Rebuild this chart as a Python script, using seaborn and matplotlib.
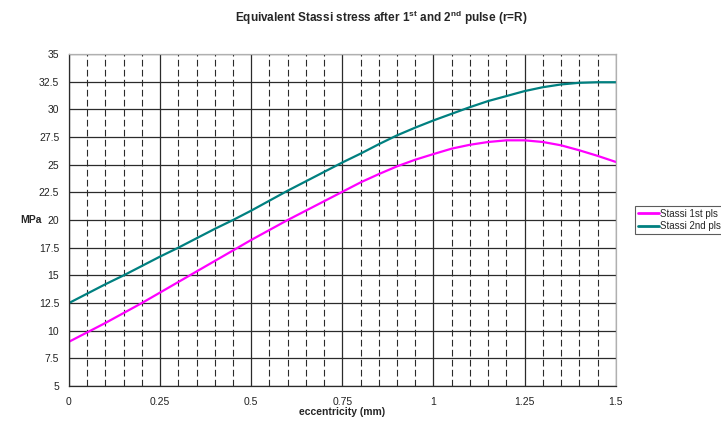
import numpy as np
import pandas as pd
import matplotlib
matplotlib.use("Agg")
import matplotlib.pyplot as plt
from matplotlib.ticker import MultipleLocator
import seaborn as sns

# Eccentricity (mm) sampled every 0.05
eccentricity = [0.00, 0.05, 0.10, 0.15, 0.20, 0.25, 0.30, 0.35, 0.40, 0.45,
                0.50, 0.55, 0.60, 0.65, 0.70, 0.75, 0.80, 0.85, 0.90, 0.95,
                1.00, 1.05, 1.10, 1.15, 1.20, 1.25, 1.30, 1.35, 1.40, 1.45, 1.50]

# Equivalent Stassi stress (MPa) after the first pulse
stassi_1st = [9.00, 9.85, 10.70, 11.60, 12.50, 13.45, 14.40, 15.35, 16.30, 17.25,
              18.20, 19.10, 20.00, 20.85, 21.70, 22.55, 23.40, 24.15, 24.85, 25.45,
              25.96, 26.45, 26.80, 27.05, 27.20, 27.20, 27.05, 26.75, 26.30, 25.80, 25.25]

# Equivalent Stassi stress (MPa) after the second pulse
stassi_2nd = [12.50, 13.35, 14.20, 15.00, 15.85, 16.70, 17.50, 18.35, 19.20, 20.00,
              20.85, 21.75, 22.65, 23.50, 24.35, 25.20, 26.00, 26.85, 27.65, 28.35,
              29.00, 29.60, 30.20, 30.75, 31.20, 31.65, 32.00, 32.25, 32.40, 32.45, 32.45]

series_names = ["Stassi 1st pls", "Stassi 2nd pls"]
series_colors = ["#FF00FF", "#008080"]

y_ticks = [5, 7.5, 10, 12.5, 15, 17.5, 20, 22.5, 25, 27.5, 30, 32.5, 35]
y_tick_labels = ["5", "7.5", "10", "12.5", "15", "17.5", "20", "22.5", "25",
                 "27.5", "30", "32.5", "35"]
x_ticks = [0, 0.25, 0.5, 0.75, 1, 1.25, 1.5]
x_tick_labels = ["0", "0.25", "0.5", "0.75", "1", "1.25", "1.5"]

df = pd.DataFrame({
    "eccentricity": eccentricity * 2,
    "stress": stassi_1st + stassi_2nd,
    "series": [series_names[0]] * len(eccentricity) + [series_names[1]] * len(eccentricity),
})

sns.set_style("white")
plt.rcParams["font.family"] = ["Liberation Sans", "DejaVu Sans"]
plt.rcParams["mathtext.fontset"] = "custom"
plt.rcParams["mathtext.rm"] = "Liberation Sans"
plt.rcParams["mathtext.bf"] = "Liberation Sans:bold"

fig = plt.figure(figsize=(7.21, 4.21), dpi=100)
ax = fig.add_axes([0.0957, 0.0831, 0.7583, 0.7886])

# grid: solid majors, dashed minors on x
ax.set_axisbelow(True)
ax.xaxis.set_minor_locator(MultipleLocator(0.05))
ax.grid(which="major", axis="both", color="#2b2b2b", linewidth=0.9, linestyle="-")
ax.grid(which="minor", axis="x", color="#2b2b2b", linewidth=0.8, linestyle=(0, (6, 3)))

sns.lineplot(data=df, x="eccentricity", y="stress", hue="series",
             palette=series_colors, linewidth=1.6, ax=ax, legend=False)

ax.set_xlim(0, 1.5)
ax.set_ylim(5, 35)
ax.set_xticks(x_ticks)
ax.set_xticklabels(x_tick_labels)
ax.set_yticks(y_ticks)
ax.set_yticklabels(y_tick_labels)
ax.tick_params(axis="both", which="major", direction="out", length=4, width=0.9,
               color="#2b2b2b", labelsize=7.5, pad=3, labelcolor="#222222")
ax.tick_params(axis="x", which="minor", direction="out", length=2, width=0.8, color="#2b2b2b")
ax.tick_params(axis="x", pad=4)

for side in ["left", "bottom"]:
    ax.spines[side].set_color("#2b2b2b")
    ax.spines[side].set_linewidth(0.9)
for side in ["top", "right"]:
    ax.spines[side].set_color("#b0b0b0")
    ax.spines[side].set_linewidth(0.9)

ax.set_xlabel("")
ax.set_ylabel("")
fig.text(342 / 721, 1 - 412 / 421, "eccentricity (mm)", fontsize=7.5,
         fontweight="bold", ha="center", va="center")
fig.text(20 / 721, 1 - 220 / 421, "MPa", fontsize=7.5, fontweight="bold",
         ha="left", va="center")

fig.text(381 / 721, 1 - 18 / 421,
         r"Equivalent Stassi stress after 1$^{\mathbf{st}}$ and 2$^{\mathbf{nd}}$ pulse (r=R)",
         fontsize=8.5, fontweight="bold", ha="center", va="center")

handles = [plt.Line2D([], [], color=c, linewidth=2) for c in series_colors]
leg = fig.legend(handles, series_names, loc="center left",
                 bbox_to_anchor=(635 / 721, 1 - 220 / 421),
                 frameon=True, fancybox=False, fontsize=7, handlelength=2.2,
                 handletextpad=0.1, borderpad=0.3, labelspacing=0.3,
                 borderaxespad=0)
leg.get_frame().set_edgecolor("#333333")
leg.get_frame().set_linewidth(0.8)

fig.savefig("out.png", dpi=100)
